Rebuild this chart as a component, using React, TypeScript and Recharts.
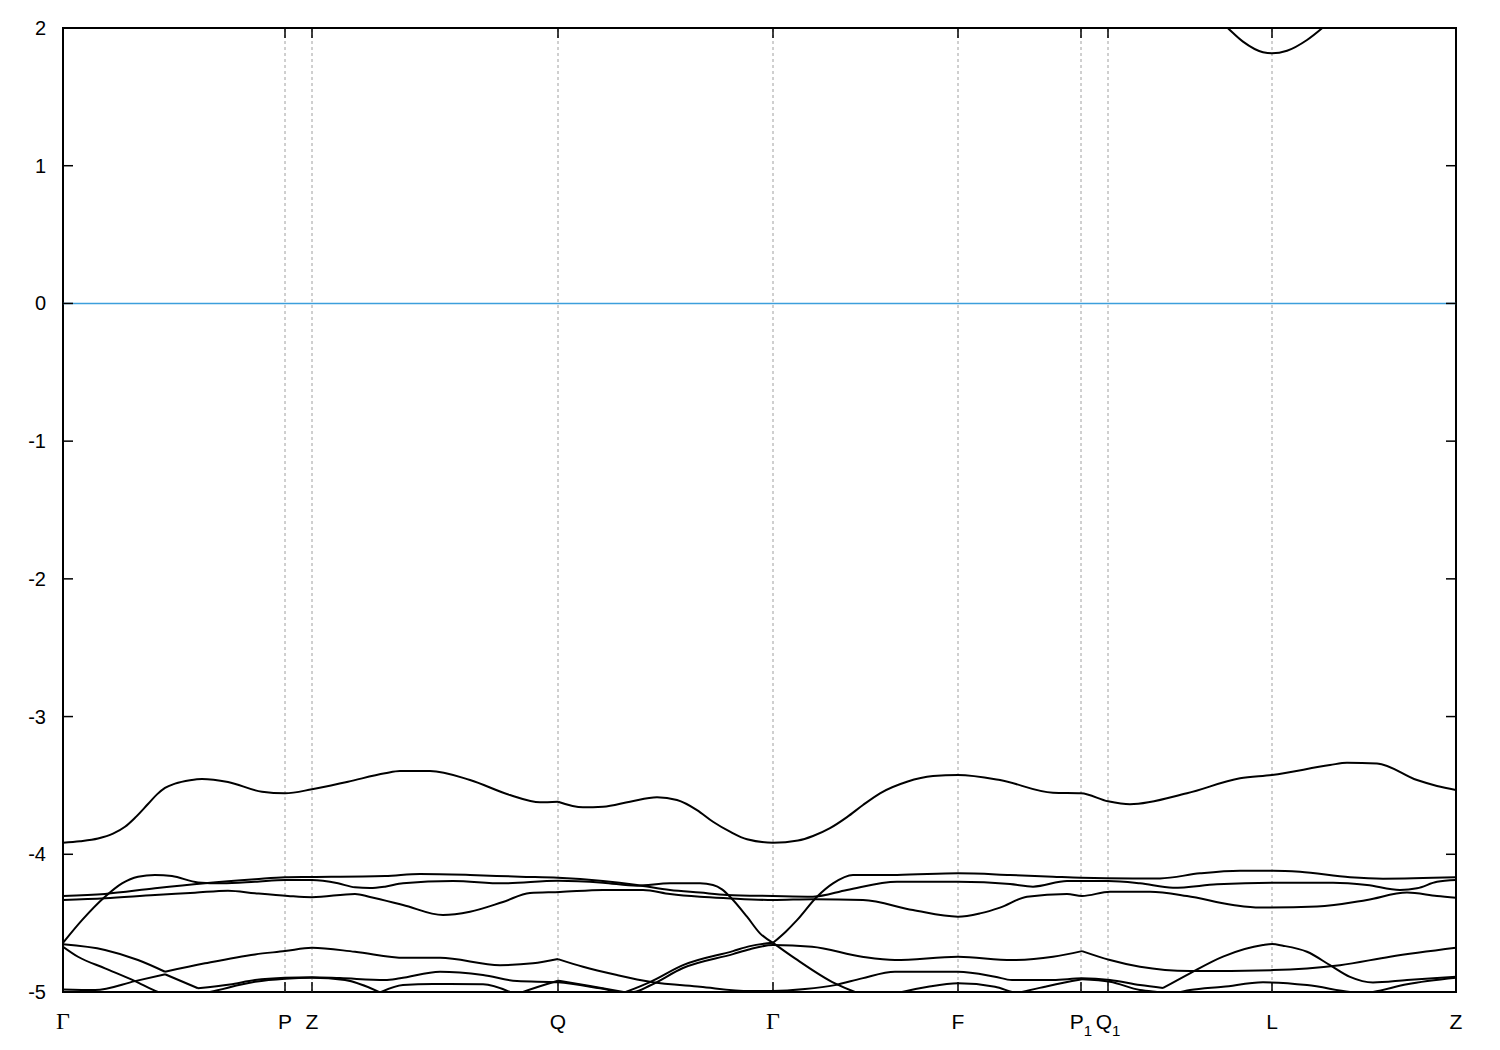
import React from 'react';
import { LineChart, Line, XAxis, YAxis, ReferenceLine, ReferenceArea } from 'recharts';

// High-symmetry points (k path distance) and their labels
const kTicks = [0, 0.222, 0.249, 0.495, 0.71, 0.895, 1.018, 1.045, 1.209, 1.393];
const kLabels = ['Γ', 'P', 'Z', 'Q', 'Γ', 'F', 'P_1', 'Q_1', 'L', 'Z'];
const eTicks = [-5, -4, -3, -2, -1, 0, 1, 2];
const kDomain: [number, number] = [0, 1.393];
const eDomain: [number, number] = [-5, 2];

// Bands: [k, E (eV)]
const bandTop: [number, number][] = [
  [0, -3.916], [0.017, -3.905], [0.035, -3.885], [0.05, -3.85], [0.062, -3.8], [0.072, -3.735],
  [0.085, -3.635], [0.094, -3.565], [0.102, -3.518], [0.112, -3.487], [0.127, -3.462], [0.139, -3.453],
  [0.165, -3.475], [0.199, -3.546], [0.222, -3.557],
  [0.249, -3.528], [0.285, -3.473], [0.322, -3.412], [0.337, -3.395], [0.367, -3.395], [0.407, -3.461],
  [0.447, -3.57], [0.477, -3.623], [0.495, -3.618], [0.52, -3.659], [0.54, -3.655], [0.567, -3.618],
  [0.594, -3.586], [0.614, -3.606], [0.634, -3.679], [0.65, -3.764], [0.667, -3.836], [0.684, -3.891],
  [0.71, -3.916], [0.735, -3.9], [0.75, -3.867], [0.767, -3.81], [0.784, -3.73], [0.8, -3.642], [0.817, -3.557],
  [0.844, -3.473], [0.87, -3.432], [0.895, -3.424], [0.937, -3.461], [0.99, -3.553], [1.018, -3.557],
  [1.045, -3.615], [1.067, -3.637], [1.124, -3.557], [1.177, -3.448], [1.209, -3.424], [1.267, -3.352],
  [1.284, -3.335], [1.314, -3.34], [1.354, -3.461], [1.374, -3.504], [1.393, -3.533],
];

const bandMidA: [number, number][] = [
  [0, -4.643], [0.019, -4.478], [0.042, -4.308], [0.059, -4.211], [0.075, -4.163], [0.092, -4.15],
  [0.109, -4.158], [0.135, -4.204], [0.159, -4.211], [0.192, -4.2], [0.222, -4.187], [0.249, -4.187],
  [0.275, -4.211], [0.292, -4.24], [0.307, -4.245], [0.322, -4.235], [0.34, -4.211], [0.39, -4.194],
  [0.44, -4.211], [0.495, -4.192], [0.54, -4.206], [0.574, -4.228], [0.607, -4.211], [0.637, -4.211],
  [0.65, -4.223], [0.659, -4.255], [0.667, -4.308], [0.684, -4.453], [0.697, -4.574], [0.71, -4.643],
  [0.723, -4.56], [0.734, -4.478], [0.754, -4.308], [0.77, -4.211], [0.79, -4.15], [0.834, -4.15],
  [0.895, -4.138], [0.947, -4.15], [0.99, -4.163], [1.018, -4.171], [1.07, -4.175], [1.097, -4.175],
  [1.137, -4.138], [1.177, -4.119], [1.21, -4.119], [1.237, -4.127], [1.287, -4.167], [1.32, -4.177],
  [1.393, -4.167],
];

const bandMidB: [number, number][] = [
  [0, -4.303], [0.042, -4.288], [0.092, -4.247], [0.142, -4.211], [0.192, -4.182], [0.222, -4.167],
  [0.249, -4.165], [0.322, -4.158], [0.357, -4.143], [0.407, -4.15], [0.457, -4.163], [0.495, -4.17],
  [0.54, -4.194], [0.574, -4.223], [0.607, -4.259], [0.637, -4.278], [0.664, -4.295], [0.71, -4.303],
  [0.75, -4.308], [0.784, -4.259], [0.834, -4.2], [0.895, -4.2], [0.947, -4.216], [0.97, -4.235],
  [1.004, -4.194], [1.045, -4.194], [1.077, -4.211], [1.11, -4.243], [1.154, -4.218], [1.21, -4.206],
  [1.27, -4.206], [1.304, -4.223], [1.337, -4.259], [1.354, -4.247], [1.374, -4.2], [1.393, -4.187],
];

const bandMidC: [number, number][] = [
  [0, -4.332], [0.042, -4.319], [0.092, -4.295], [0.132, -4.279], [0.165, -4.264], [0.192, -4.283],
  [0.225, -4.303], [0.249, -4.312], [0.292, -4.288], [0.307, -4.31], [0.34, -4.368], [0.38, -4.441],
  [0.407, -4.417], [0.44, -4.346], [0.467, -4.281], [0.497, -4.274], [0.54, -4.259], [0.58, -4.259],
  [0.607, -4.288], [0.637, -4.308], [0.664, -4.319], [0.71, -4.332], [0.75, -4.326], [0.8, -4.332],
  [0.85, -4.405], [0.895, -4.453], [0.917, -4.429], [0.937, -4.387], [0.964, -4.308], [1.004, -4.288],
  [1.019, -4.303], [1.047, -4.272], [1.087, -4.272], [1.124, -4.303], [1.17, -4.368], [1.197, -4.387],
  [1.254, -4.38], [1.304, -4.332], [1.344, -4.278], [1.374, -4.303], [1.393, -4.315],
];

const bandLowA: [number, number][] = [
  [0, -4.654], [0.042, -4.695], [0.075, -4.768], [0.102, -4.853], [0.142, -4.792], [0.192, -4.727],
  [0.222, -4.703], [0.249, -4.679], [0.292, -4.708], [0.342, -4.752], [0.377, -4.752], [0.437, -4.805],
  [0.47, -4.792], [0.495, -4.761], [0.52, -4.817], [0.554, -4.877], [0.587, -4.926], [0.637, -4.962],
  [0.687, -4.993], [0.71, -4.993], [0.742, -4.979], [0.772, -4.95], [0.799, -4.901], [0.832, -4.853],
  [0.895, -4.853], [0.932, -4.889], [0.949, -4.913], [0.99, -4.913], [1.019, -4.901], [1.047, -4.913],
  [1.077, -4.95], [1.1, -4.971], [1.127, -4.864], [1.16, -4.743], [1.2, -4.659], [1.209, -4.652],
  [1.22, -4.664], [1.244, -4.708], [1.267, -4.805], [1.287, -4.89], [1.31, -4.931], [1.344, -4.913],
  [1.393, -4.89],
];

const bandLowB: [number, number][] = [
  [0, -4.671], [0.015, -4.744], [0.042, -4.828], [0.072, -4.921], [0.095, -5.0], [0.119, -5.04],
  [0.147, -5.0], [0.192, -4.926], [0.222, -4.904], [0.249, -4.897], [0.282, -4.913], [0.317, -5.003],
  [0.34, -4.95], [0.37, -4.942], [0.42, -4.944], [0.447, -5.0], [0.453, -5.02], [0.46, -5.0],
  [0.495, -4.918], [0.527, -4.957], [0.562, -5.002], [0.587, -4.928], [0.62, -4.805], [0.67, -4.703],
  [0.687, -4.667], [0.71, -4.643], [0.732, -4.756], [0.772, -4.938], [0.792, -5.0], [0.815, -5.05],
  [0.839, -5.0], [0.865, -4.962], [0.895, -4.937], [0.932, -4.962], [0.949, -5.0], [0.954, -5.01],
  [0.959, -5.0], [0.982, -4.962], [1.015, -4.913], [1.019, -4.908], [1.047, -4.926], [1.077, -4.986],
  [1.094, -5.0], [1.109, -5.01], [1.127, -4.986], [1.16, -4.962], [1.2, -4.93], [1.244, -4.95],
  [1.287, -5.0], [1.299, -5.01], [1.31, -5.0], [1.344, -4.944], [1.393, -4.897],
];

const bandLowC: [number, number][] = [
  [0, -4.981], [0.032, -4.986], [0.072, -4.921], [0.102, -4.871], [0.135, -4.973], [0.167, -4.945],
  [0.192, -4.913], [0.222, -4.896], [0.249, -4.892], [0.277, -4.899], [0.322, -4.913], [0.337, -4.901],
  [0.377, -4.853], [0.42, -4.877], [0.454, -4.921], [0.495, -4.93], [0.537, -4.973], [0.559, -5.0],
  [0.57, -5.0], [0.587, -4.953], [0.62, -4.826], [0.67, -4.725], [0.687, -4.689], [0.71, -4.659],
  [0.749, -4.671], [0.799, -4.744], [0.832, -4.768], [0.895, -4.744], [0.949, -4.768], [0.99, -4.744],
  [1.019, -4.703], [1.047, -4.768], [1.077, -4.817], [1.127, -4.848], [1.21, -4.841], [1.277, -4.805],
  [1.327, -4.744], [1.393, -4.679],
];

const bandCond: [number, number][] = [
  [1.147, 2.12], [1.165, 1.998], [1.18, 1.901], [1.2, 1.824], [1.209, 1.816], [1.224, 1.835],
  [1.244, 1.913], [1.259, 1.998], [1.277, 2.12],
];

// k positions where a band has a kink (band crossing / cusp)
const bandTopKinks = [0.495];
const bandMidAKinks = [0.71];
const bandLowAKinks = [0.102, 0.495, 1.1];
const bandLowBKinks = [0.317, 0.495, 0.562, 0.71, 1.019];
const bandLowCKinks = [0.102, 0.135, 1.019];

const bands: { pts: [number, number][]; kinks: number[] }[] = [
  { pts: bandTop, kinks: bandTopKinks },
  { pts: bandMidA, kinks: bandMidAKinks },
  { pts: bandMidB, kinks: [] },
  { pts: bandMidC, kinks: [] },
  { pts: bandLowA, kinks: bandLowAKinks },
  { pts: bandLowB, kinks: bandLowBKinks },
  { pts: bandLowC, kinks: bandLowCKinks },
  { pts: bandCond, kinks: [] },
];

const splitAt = (b: [number, number][], kinks: number[]) => {
  const segs: { k: number; e: number }[][] = [];
  let cur: { k: number; e: number }[] = [];
  b.forEach(([k, e]) => {
    cur.push({ k, e });
    if (kinks.includes(k) && cur.length > 1) {
      segs.push(cur);
      cur = [{ k, e }];
    }
  });
  if (cur.length > 1) segs.push(cur);
  return segs;
};

const PLOT_W = 1393;
const PLOT_H = 964;
const TICK_PX = 10;
const tickLenK = (TICK_PX * (kDomain[1] - kDomain[0])) / PLOT_W;
const tickLenE = (TICK_PX * (eDomain[1] - eDomain[0])) / PLOT_H;

const FONT = '"Liberation Sans", Arial, Helvetica, sans-serif';

const XTick = (props: any) => {
  const { x, y, payload } = props;
  const idx = kTicks.indexOf(payload.value);
  const label = idx >= 0 ? kLabels[idx] : '';
  const [main, sub] = label.split('_');
  const isGamma = main === 'Γ';
  return (
    <text
      x={x}
      y={y + 37}
      textAnchor="middle"
      fontSize={isGamma ? 24 : 21}
      fill="#000"
      fontFamily={isGamma ? '"Liberation Serif", "DejaVu Serif", serif' : FONT}
    >
      <tspan>{main}</tspan>
      {sub ? <tspan dy={7} fontSize={15}>{sub}</tspan> : null}
    </text>
  );
};

const YTick = (props: any) => {
  const { x, y, payload } = props;
  return (
    <text x={x - 17} y={y + 7} textAnchor="end" fontSize={20} fill="#000" fontFamily={FONT}>
      {payload.value}
    </text>
  );
};

export default function App() {
  const inner = kTicks.filter((k) => k > kDomain[0] && k < kDomain[1]);
  const segments = bands.flatMap((b) => splitAt(b.pts, b.kinks));
  return (
    <div style={{ position: 'absolute', left: 0, top: 0, width: 1500, height: 1050, background: '#fff' }}>
      <LineChart width={1500} height={1050} margin={{ top: 28, right: 44, bottom: 0, left: 0 }}>
        <XAxis
          dataKey="k"
          type="number"
          domain={kDomain}
          ticks={kTicks}
          interval={0}
          allowDataOverflow
          height={58}
          tickSize={0}
          tickMargin={0}
          axisLine={false}
          tickLine={false}
          tick={<XTick />}
        />
        <YAxis
          type="number"
          domain={eDomain}
          ticks={eTicks}
          interval={0}
          allowDataOverflow
          width={63}
          tickSize={0}
          tickMargin={0}
          axisLine={false}
          tickLine={false}
          tick={<YTick />}
        />
        {inner.map((k, i) => (
          <ReferenceLine key={'v' + i} x={k} stroke="#a0a0a0" strokeWidth={1} strokeDasharray="3 3" />
        ))}
        <ReferenceLine y={0} stroke="#3c9fdc" strokeWidth={1.5} />
        {segments.map((s, i) => (
          <Line
            key={'s' + i}
            data={s}
            dataKey="e"
            type="monotoneX"
            dot={false}
            activeDot={false}
            stroke="#000"
            strokeWidth={2}
            isAnimationActive={false}
          />
        ))}
        {eTicks.map((v, i) => (
          <ReferenceLine
            key={'yl' + i}
            segment={[{ x: kDomain[0], y: v }, { x: kDomain[0] + tickLenK, y: v }]}
            stroke="#000"
            strokeWidth={1.5}
          />
        ))}
        {eTicks.map((v, i) => (
          <ReferenceLine
            key={'yr' + i}
            segment={[{ x: kDomain[1] - tickLenK, y: v }, { x: kDomain[1], y: v }]}
            stroke="#000"
            strokeWidth={1.5}
          />
        ))}
        {kTicks.map((k, i) => (
          <ReferenceLine
            key={'xb' + i}
            segment={[{ x: k, y: eDomain[0] }, { x: k, y: eDomain[0] + tickLenE }]}
            stroke="#000"
            strokeWidth={1.5}
          />
        ))}
        {kTicks.map((k, i) => (
          <ReferenceLine
            key={'xt' + i}
            segment={[{ x: k, y: eDomain[1] - tickLenE }, { x: k, y: eDomain[1] }]}
            stroke="#000"
            strokeWidth={1.5}
          />
        ))}
        <ReferenceArea
          x1={kDomain[0]}
          x2={kDomain[1]}
          y1={eDomain[0]}
          y2={eDomain[1]}
          fill="none"
          fillOpacity={0}
          stroke="#000"
          strokeWidth={2}
        />
      </LineChart>
    </div>
  );
}
